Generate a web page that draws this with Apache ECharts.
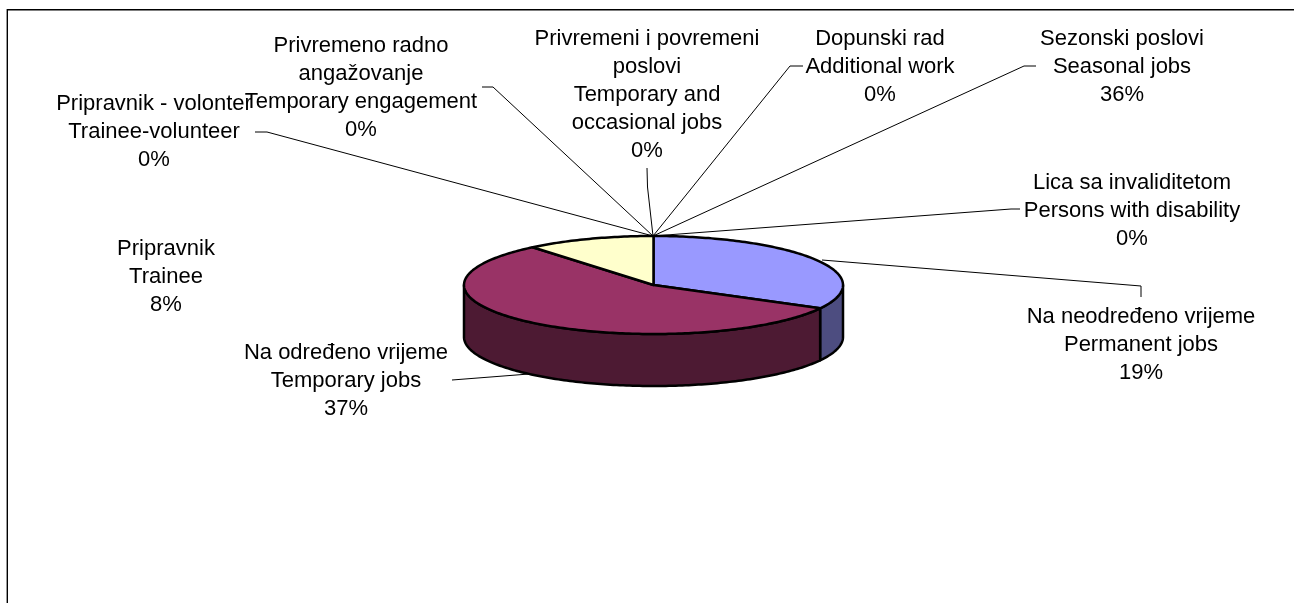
<!DOCTYPE html>
<html>
<head>
<meta charset="utf-8">
<style>html,body{margin:0;padding:0;background:#fff}#c{width:1294px;height:603px}</style>
<script src="https://cdn.jsdelivr.net/npm/echarts@6/dist/echarts.min.js"></script>
</head>
<body>
<div id="c"></div>
<script>
// Data
const categories = [
  'Sezonski poslovi\nSeasonal jobs',
  'Lica sa invaliditetom\nPersons with disability',
  'Na neodređeno vrijeme\nPermanent jobs',
  'Na određeno vrijeme\nTemporary jobs',
  'Pripravnik\nTrainee',
  'Pripravnik - volonter\nTrainee-volunteer',
  'Privremeno radno\nangažovanje\nTemporary engagement',
  'Privremeni i povremeni\nposlovi\nTemporary and\noccasional jobs',
  'Dopunski rad\nAdditional work'
];
const percents = [36, 0, 19, 37, 8, 0, 0, 0, 0];
// Slice shares as drawn in the picture (clockwise from 12 o'clock)
const sliceNames = ['Na neodređeno vrijeme', 'Na određeno vrijeme', 'Pripravnik'];
const sliceShares = [32.9, 56.1, 11.0];

// Layout and style
const labelCentres = [[1122,67],[1132,211],[1141,345],[346,381],[166,277],[154,132],[361,88],[647,95],[880,67]];
const leaderPaths = [
  [[1036,66],[1024,66],[653,236]],
  [[1020,209],[1011,209],[653,236]],
  [[1141,297],[1141,286],[822,260]],
  [[452,380],[529,374]],
  null,
  [[255,132],[267,132],[653,236]],
  [[482,87],[493,87],[653,236]],
  [[647,168],[647.5,187],[653,236]],
  [[803,66],[790,66],[653,236]]
];
const topColors = ['#9999FF', '#993366', '#FFFFCC'];
const sideColors = ['#4D4D80', '#4D1A33', '#808066'];
const CX = 653.5, CY = 285, RX = 189.5, RY = 49, DEPTH = 52;
const FONT = '22px "Liberation Sans", Arial, sans-serif';

const total = sliceShares.reduce((a, b) => a + b, 0);
const startShare = i => sliceShares.slice(0, i).reduce((a, b) => a + b, 0);
const pt = (deg, dy) => {
  const r = deg * Math.PI / 180;
  return [CX + RX * Math.sin(r), CY - RY * Math.cos(r) + (dy || 0)];
};
function arc(a, b, dy) {
  const out = [], n = Math.max(2, Math.ceil(Math.abs(b - a)));
  for (let k = 0; k <= n; k++) out.push(pt(a + (b - a) * k / n, dy));
  return out;
}
const edge = { stroke: '#000', lineWidth: 2.5, lineJoin: 'round' };

function renderSide(params, api) {
  const i = api.value(0);
  const a0 = startShare(i) / total * 360, a1 = a0 + api.value(1) / total * 360;
  const lo = Math.max(a0, 90), hi = Math.min(a1, 270);
  if (hi <= lo) return { type: 'group', children: [] };
  const pts = arc(lo, hi, 0).concat(arc(hi, lo, DEPTH));
  return { type: 'polygon', shape: { points: pts }, style: Object.assign({ fill: sideColors[i] }, edge) };
}
function renderTop(params, api) {
  const i = api.value(0);
  const a0 = startShare(i) / total * 360, a1 = a0 + api.value(1) / total * 360;
  const pts = [[CX, CY]].concat(arc(a0, a1, 0));
  return { type: 'polygon', shape: { points: pts }, style: Object.assign({ fill: topColors[i] }, edge) };
}
function renderLabel(params, api) {
  const i = api.value(0);
  const children = [];
  if (leaderPaths[i]) children.push({
    type: 'polyline', shape: { points: leaderPaths[i] },
    style: { stroke: '#000', lineWidth: 1, fill: null }
  });
  children.push({
    type: 'text', z2: 5,
    style: {
      text: categories[i] + '\n' + api.value(1) + '%',
      x: labelCentres[i][0], y: labelCentres[i][1],
      align: 'center', verticalAlign: 'middle',
      font: FONT, lineHeight: 28, fill: '#000'
    }
  });
  return { type: 'group', children };
}
function renderFrame() {
  return { type: 'polyline', shape: { points: [[7.3,603],[7.3,9.7],[1294,9.7]] }, style: { stroke: '#000', lineWidth: 1.4, fill: null } };
}

const chart = echarts.init(document.getElementById('c'), null, { renderer: 'canvas' });
const sliceData = sliceShares.map((v, i) => [i, v]);
chart.setOption({
  animation: false,
  backgroundColor: '#fff',
  tooltip: { show: false },
  series: [
    { type: 'custom', coordinateSystem: 'none', silent: true, z: 1, data: [[0]], renderItem: renderFrame },
    { type: 'custom', coordinateSystem: 'none', silent: true, z: 2, data: percents.map((v, i) => [i, v]), renderItem: renderLabel },
    { type: 'custom', coordinateSystem: 'none', silent: true, z: 3, data: sliceData, renderItem: renderSide },
    { type: 'custom', coordinateSystem: 'none', silent: true, z: 4, data: sliceData, renderItem: renderTop }
  ]
});
</script>
</body>
</html>
